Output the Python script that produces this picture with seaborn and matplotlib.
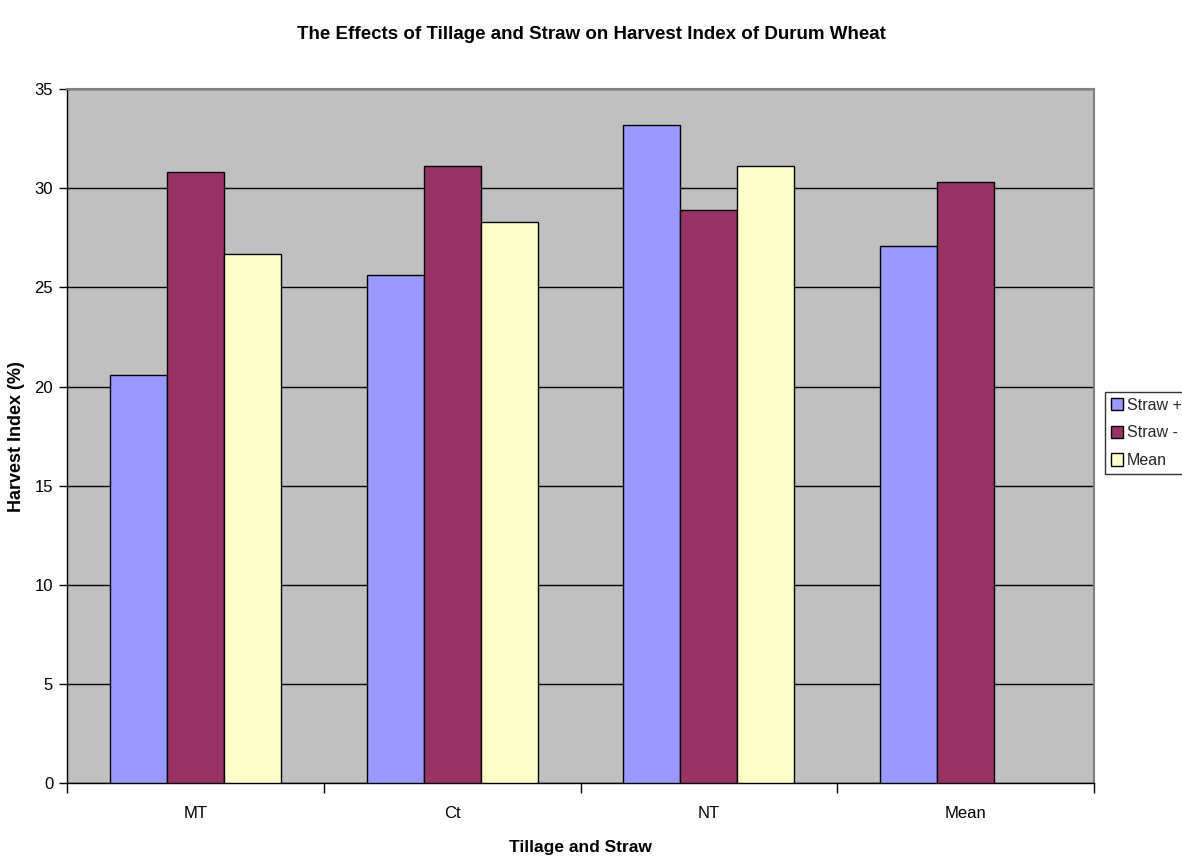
import numpy as np
import pandas as pd
import matplotlib
matplotlib.use("Agg")
import matplotlib.pyplot as plt
import seaborn as sns

# Harvest index (%) by tillage system and straw treatment
tillage = ["MT", "Ct", "NT", "Mean"]
series = ["Straw +", "Straw -", "Mean"]
straw_plus = [20.6, 25.6, 33.2, 27.1]
straw_minus = [30.8, 31.1, 28.9, 30.3]
mean_vals = [26.7, 28.3, 31.1, np.nan]
colors = ["#9999FF", "#993366", "#FFFFCC"]
y_ticks = [0, 5, 10, 15, 20, 25, 30, 35]

df = pd.DataFrame({
    "Tillage": tillage * 3,
    "Series": [s for s in series for _ in tillage],
    "Value": straw_plus + straw_minus + mean_vals,
})

sns.set_theme(style="white")
plt.rcParams["font.family"] = ["Liberation Sans", "DejaVu Sans"]

fig = plt.figure(figsize=(11.82, 8.61), dpi=100)
ax = fig.add_axes([0.0567, 0.0902, 0.8689, 0.8064])
ax.set_facecolor("#C0C0C0")

sns.barplot(data=df, x="Tillage", y="Value", hue="Series", order=tillage,
            hue_order=series, palette=colors, width=0.666, dodge=True,
            edgecolor="black", linewidth=1.0, saturation=1, ax=ax,
            errorbar=None, legend=True, zorder=3)

ax.set_ylim(0, 35)
ax.set_xlim(-0.5, len(tillage) - 0.5)
ax.set_yticks(y_ticks)
ax.yaxis.grid(True, color="black", linewidth=1.0, zorder=1)
ax.set_axisbelow(True)

# category labels centred, tick marks at group boundaries
ax.set_xticks(range(len(tillage)))
ax.set_xticklabels(tillage)
ax.set_xticks(np.arange(-0.5, len(tillage), 1.0), minor=True)
ax.tick_params(axis="x", which="major", length=0, pad=16, labelsize=12,
               labelcolor="black")
ax.tick_params(axis="x", which="minor", length=7, width=1, color="black",
               direction="out", bottom=True)
ax.tick_params(axis="y", length=6, width=1, color="black", direction="out",
               left=True, labelsize=12, pad=4, labelcolor="black")

for side in ["left", "bottom"]:
    ax.spines[side].set_color("black")
    ax.spines[side].set_linewidth(1.0)
for side in ["top", "right"]:
    ax.spines[side].set_color("#808080")
    ax.spines[side].set_linewidth(1.5)

ax.set_xlabel("Tillage and Straw", fontsize=12.5, fontweight="bold",
              labelpad=14, color="black")
ax.set_ylabel("Harvest Index (%)", fontsize=13, fontweight="bold",
              labelpad=7, color="black")
fig.suptitle("The Effects of Tillage and Straw on Harvest Index of Durum Wheat",
             fontsize=13.5, fontweight="bold", x=0.5, y=0.97, color="black")

handles, labels = ax.get_legend_handles_labels()
ax.legend_.remove()
leg = fig.legend(handles, labels, loc="upper left",
                 bbox_to_anchor=(1105 / 1182, 1 - 392 / 861),
                 frameon=True, fancybox=False, fontsize=11.5,
                 handlelength=0.8, handleheight=0.8, handletextpad=0.2,
                 borderpad=0.35, labelspacing=0.8, borderaxespad=0)
leg.get_frame().set_edgecolor("black")
leg.get_frame().set_linewidth(1.0)
leg.get_frame().set_facecolor("white")

fig.savefig("out.png", dpi=100)
